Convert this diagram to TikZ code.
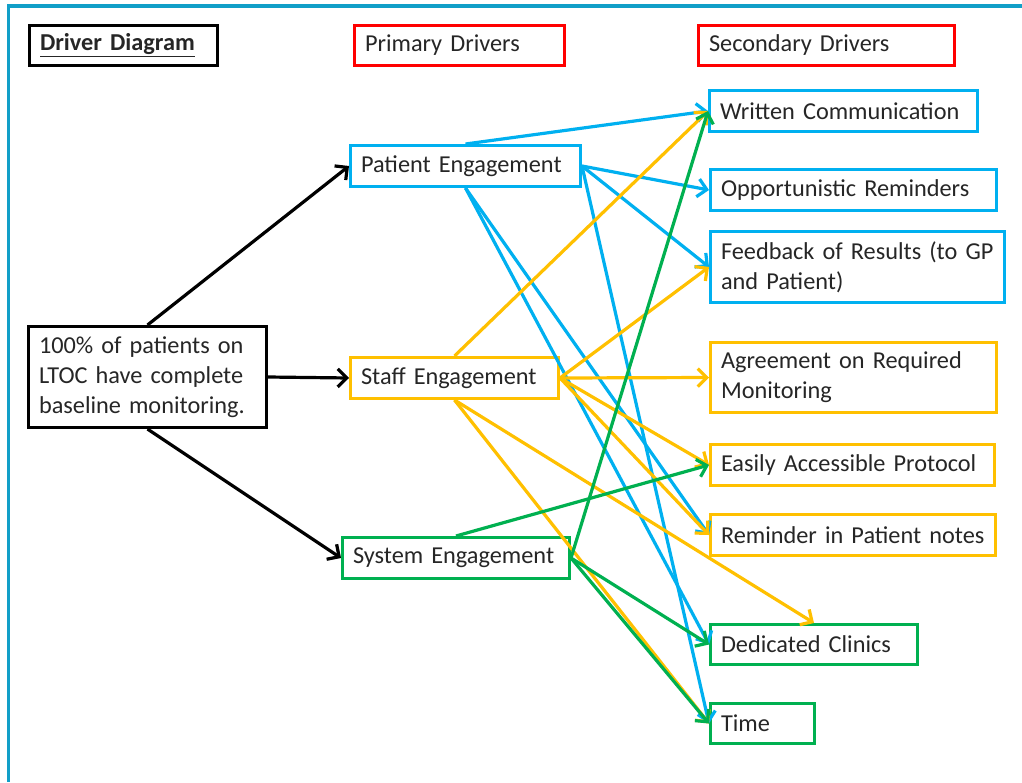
\documentclass[tikz,border=0pt]{standalone}
\usepackage{fontspec}
\setmainfont{Carlito}
\usetikzlibrary{arrows.meta}
\definecolor{cblue}{HTML}{00B0F0}
\definecolor{corange}{HTML}{FFC000}
\definecolor{cgreen}{HTML}{00B050}
\definecolor{cred}{HTML}{FF0000}
\definecolor{cframe}{HTML}{119FC8}
\definecolor{ctext}{HTML}{262626}
\begin{document}
\begin{tikzpicture}[x=1pt,y=-1pt,
  bx/.style={draw, line width=3pt, anchor=north west, inner xsep=10.5pt, inner ysep=0pt,
    align=left, text=ctext, font=\fontsize{24.3}{29.8}\selectfont, fill=white},
  sz/.style n args={3}{minimum width=#1, minimum height=#2, text width=#3},
  arr/.style={line width=3.2pt, -{Straight Barb[length=9pt,width=18pt]}},
  frame/.style={cframe, line width=3.5pt}]
\useasboundingbox (0,0) rectangle (1022,782);
\fill[white] (0,0) rectangle (1022,782);
\draw[frame] (7,6) -- (1022,6);
\draw[frame] (8.5,4.5) -- (8.5,782);

% headers
\node[bx, draw=black, sz={188pt}{40pt}{167pt}] (dd) at (28,24) {\textbf{\underline{Driver Diagram}}};
\node[bx, draw=cred, sz={210pt}{40pt}{189pt}] (pd) at (353,24) {Primary Drivers};
\node[bx, draw=cred, sz={256pt}{40pt}{235pt}] (sd) at (697,24) {Secondary Drivers};

% goal
\node[bx, draw=black, sz={238pt}{101pt}{217pt}] (goal) at (27,325) {100\% of patients on\\LTOC have complete\\baseline monitoring.};

% primary
\node[bx, draw=cblue, sz={230pt}{41pt}{209pt}] (pe) at (349,144) {Patient Engagement};
\node[bx, draw=corange, sz={208pt}{41pt}{187pt}] (st) at (349,356) {Staff Engagement};
\node[bx, draw=cgreen, sz={227pt}{41pt}{206pt}] (sy) at (341,536) {System Engagement};

% secondary
\node[bx, draw=cblue, sz={268pt}{41pt}{247pt}] (wc) at (708,89) {Written Communication};
\node[bx, draw=cblue, sz={286pt}{41pt}{265pt}] (orm) at (709,168) {Opportunistic Reminders};
\node[bx, draw=cblue, sz={294pt}{71pt}{273pt}] (fb) at (709,230) {Feedback of Results (to GP\\and Patient)};
\node[bx, draw=corange, sz={286pt}{70pt}{265pt}] (ag) at (709,341) {Agreement on Required\\Monitoring};
\node[bx, draw=corange, sz={284pt}{41pt}{263pt}] (ea) at (709,443) {Easily Accessible Protocol};
\node[bx, draw=corange, sz={285pt}{41pt}{264pt}] (rp) at (709,513) {Reminder in Patient notes};
\node[bx, draw=cgreen, sz={207pt}{40pt}{186pt}] (dc) at (709,623) {Dedicated Clinics};
\node[bx, draw=cgreen, sz={104pt}{40pt}{83pt}] (tm) at (709,702) {Time};

% black
\draw[arr, black] (goal.north) -- (pe.west);
\draw[arr, black] (goal.east) -- (st.west);
\draw[arr, black] (goal.south) -- (sy.west);

% blue
\draw[arr, cblue] (pe.north) -- (wc.west);
\draw[arr, cblue] (pe.east) -- (orm.west);
\draw[arr, cblue] (pe.east) -- (fb.west);
\draw[arr, cblue] (pe.south) -- (rp.west);
\draw[arr, cblue] (pe.south) -- (dc.west);
\draw[arr, cblue] (pe.east) -- (tm.west);

% orange
\draw[arr, corange] (st.north) -- (wc.west);
\draw[arr, corange] (st.east) -- (fb.west);
\draw[arr, corange] (st.east) -- (ag.west);
\draw[arr, corange] (st.east) -- (ea.west);
\draw[arr, corange] (st.east) -- (rp.west);
\draw[arr, corange] (st.south) -- (dc.north);
\draw[arr, corange] (st.south) -- (tm.west);

% green
\draw[arr, cgreen] (sy.north) -- (ea.west);
\draw[arr, cgreen] (sy.east) -- (wc.west);
\draw[arr, cgreen] (sy.east) -- (dc.west);
\draw[arr, cgreen] (sy.east) -- (tm.west);
\end{tikzpicture}
\end{document}
